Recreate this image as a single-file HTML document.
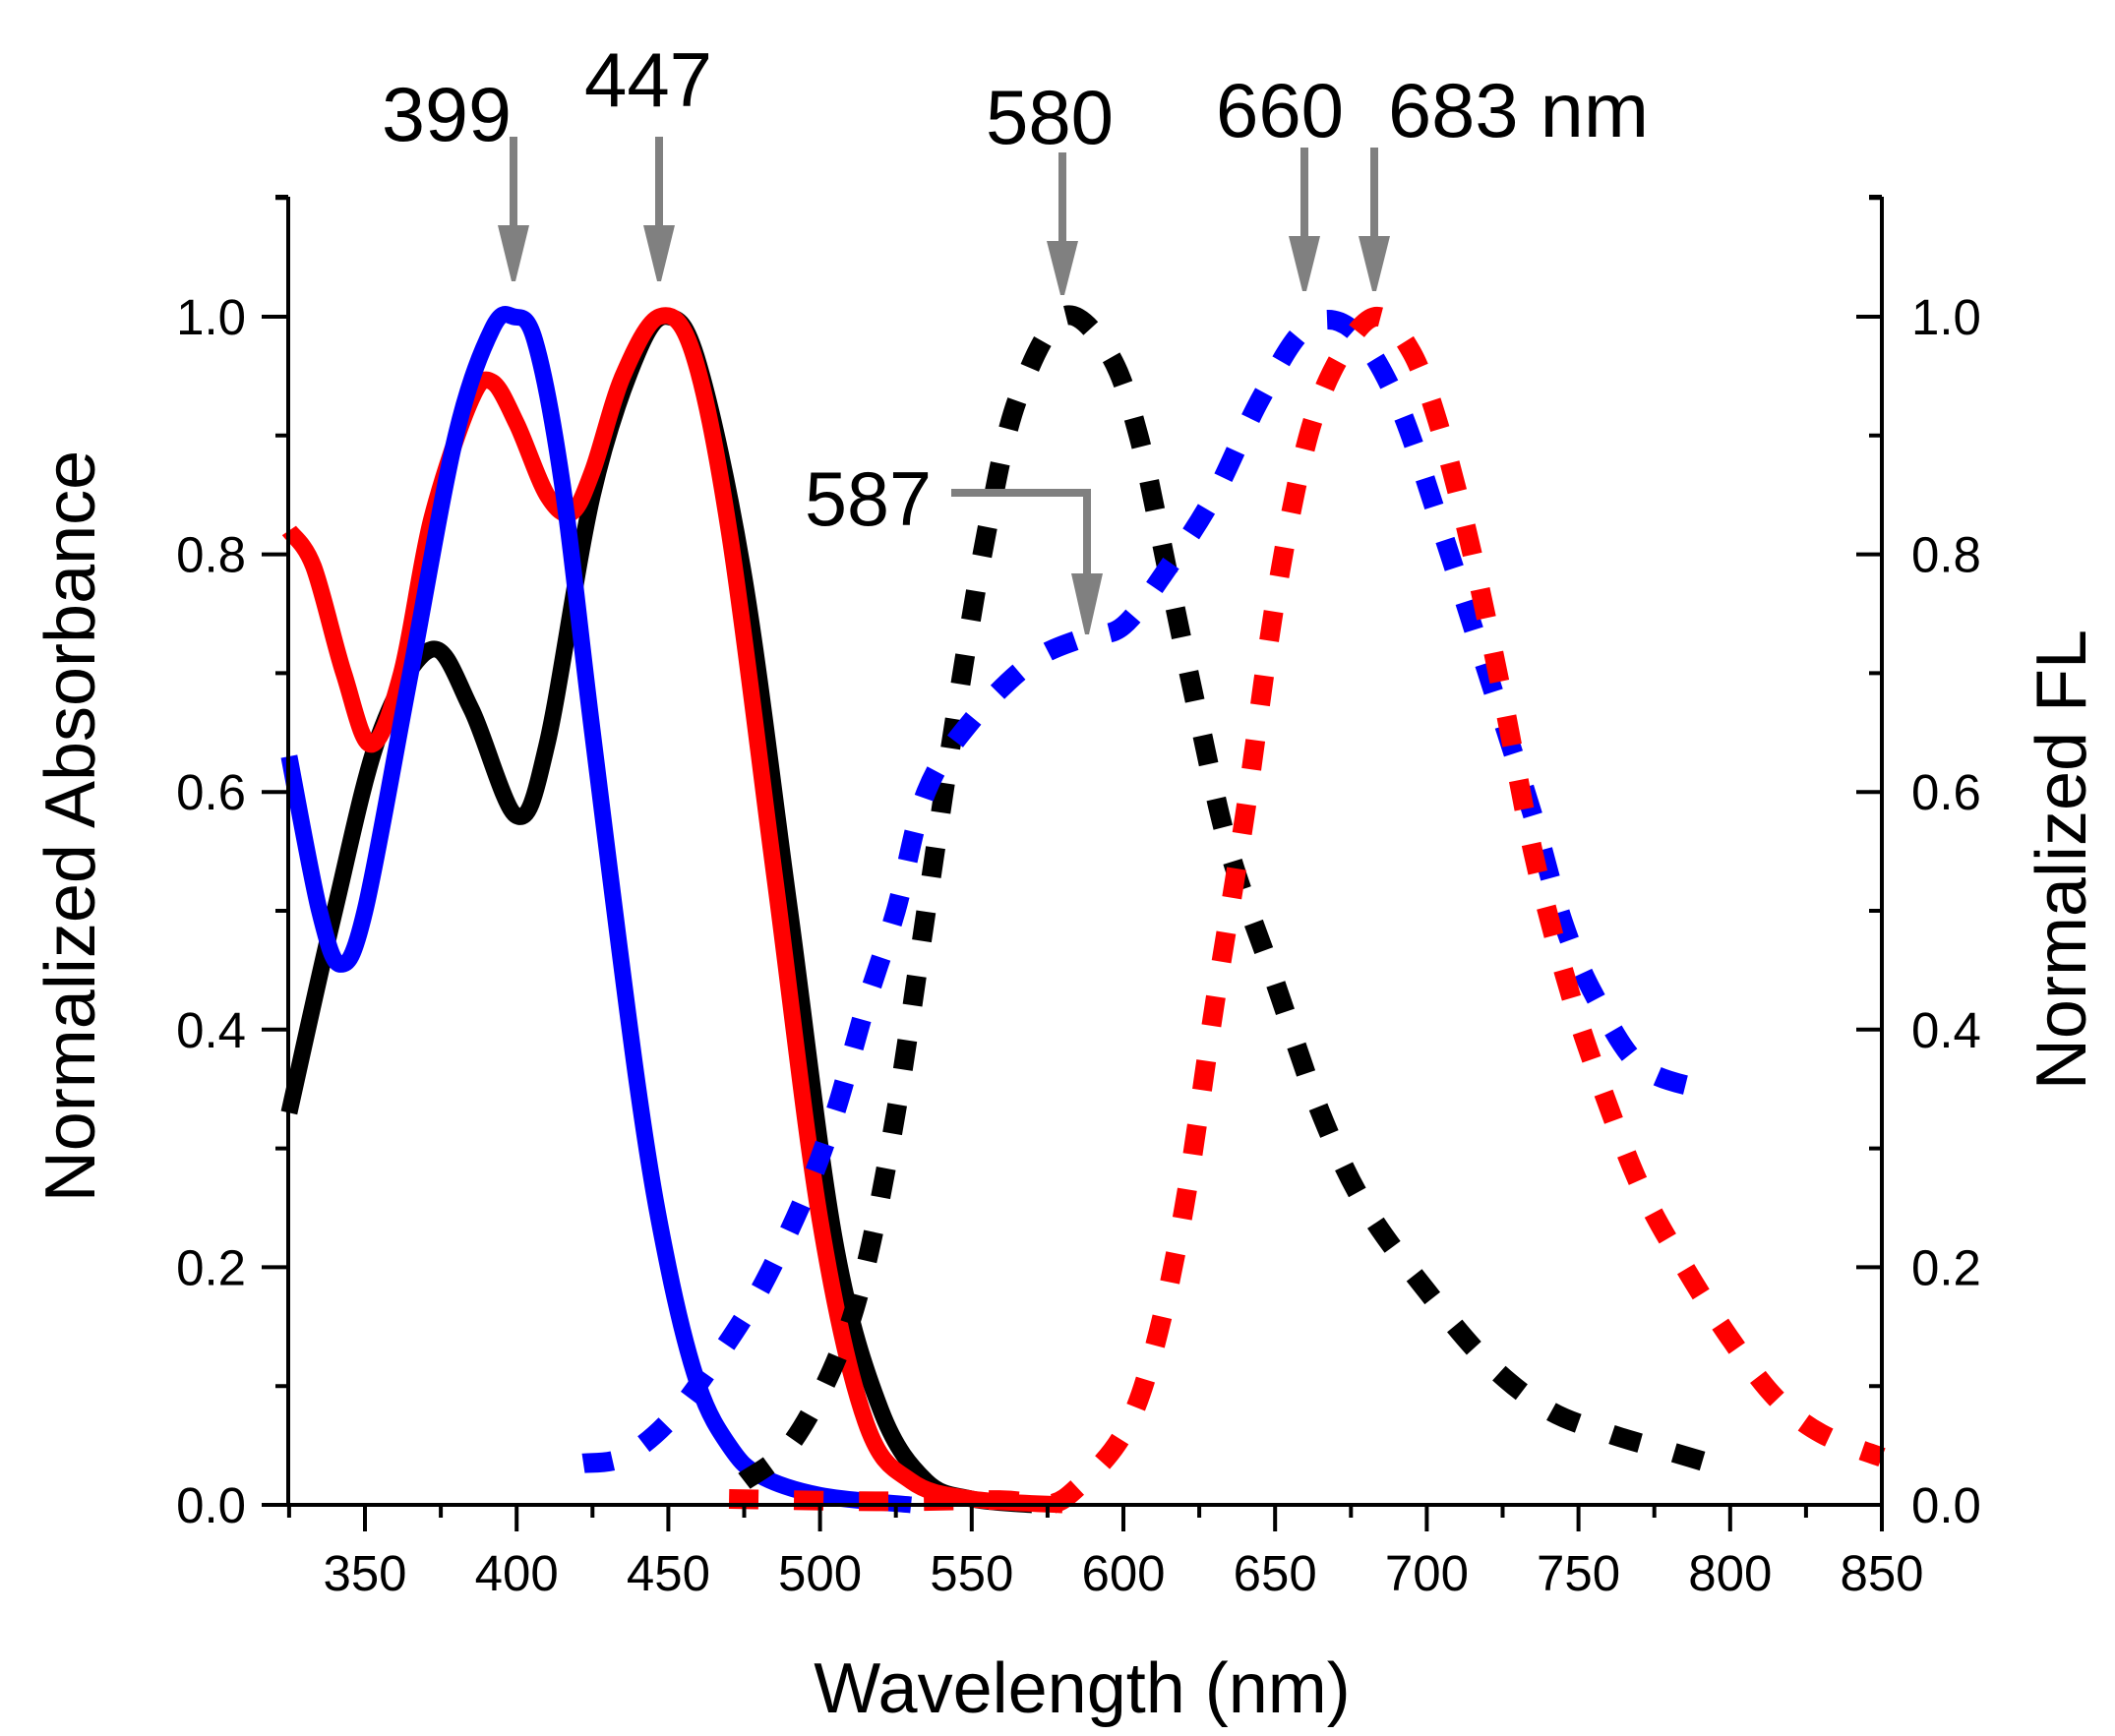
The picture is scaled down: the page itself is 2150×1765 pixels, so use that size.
<!DOCTYPE html>
<html><head><meta charset="utf-8"><style>
html,body{margin:0;padding:0;background:#fff}
svg{display:block}
text{font-family:"Liberation Sans",Arial,sans-serif;fill:#000}
</style></head><body>
<svg id="s" width="2150" height="1765" viewBox="0 0 2150 1765" xmlns="http://www.w3.org/2000/svg">
<g id="curves"></g>
<g id="axes" stroke="#000" stroke-width="4" fill="none"></g>
<g id="labels" font-size="51"></g>
<text x="1100" y="1741" font-size="72" text-anchor="middle">Wavelength (nm)</text>
<text transform="translate(96,840) rotate(-90)" font-size="72" text-anchor="middle">Normalized Absorbance</text>
<text transform="translate(2120,874) rotate(-90)" font-size="72" text-anchor="middle">Normalized FL</text>
<g font-size="78">
<text x="388" y="143" textLength="132" lengthAdjust="spacingAndGlyphs">399</text>
<text x="594" y="108" textLength="130" lengthAdjust="spacingAndGlyphs">447</text>
<text x="1002" y="146" textLength="130" lengthAdjust="spacingAndGlyphs">580</text>
<text x="1236" y="139" textLength="130" lengthAdjust="spacingAndGlyphs">660</text>
<text x="1411" y="139" textLength="265" lengthAdjust="spacingAndGlyphs">683 nm</text>
<text x="818" y="534" textLength="129" lengthAdjust="spacingAndGlyphs">587</text>
</g>
<g id="arrows" fill="#808080" stroke="#808080"></g>
</svg>
<script>
var X=function(w){return 371+(w-350)*3.084;};
var Y=function(v){return 1530-v*1208;};
function path(pts){
  var p=pts.map(function(a){return [X(a[0]),Y(a[1])];});
  var d="M"+p[0][0].toFixed(1)+","+p[0][1].toFixed(1);
  for(var i=0;i<p.length-1;i++){
    var p0=p[i-1]||p[i],p1=p[i],p2=p[i+1],p3=p[i+2]||p2;
    var c1=[p1[0]+(p2[0]-p0[0])/6,p1[1]+(p2[1]-p0[1])/6];
    var c2=[p2[0]-(p3[0]-p1[0])/6,p2[1]-(p3[1]-p1[1])/6];
    d+="C"+c1[0].toFixed(1)+","+c1[1].toFixed(1)+" "+c2[0].toFixed(1)+","+c2[1].toFixed(1)+" "+p2[0].toFixed(1)+","+p2[1].toFixed(1);
  }
  return d;
}
var series=[
 {c:"#000",dot:false,d:[[325,0.33],[340,0.5],[355,0.65],[372,0.72],[385,0.67],[400,0.58],[410,0.64],[425,0.85],[440,0.97],[450,1.0],[460,0.96],[475,0.78],[490,0.5],[505,0.22],[520,0.08],[535,0.02],[550,0.005],[570,0]]},
 {c:"#f00",dot:false,d:[[325,0.82],[333,0.79],[343,0.7],[352,0.64],[362,0.7],[372,0.83],[385,0.93],[392,0.945],[400,0.91],[410,0.85],[418,0.835],[425,0.87],[435,0.95],[447,1.0],[458,0.97],[470,0.82],[485,0.53],[500,0.24],[515,0.07],[530,0.02],[550,0.005],[580,0]]},
 {c:"#00f",dot:false,d:[[325,0.63],[335,0.5],[342,0.455],[350,0.5],[365,0.7],[380,0.9],[392,0.99],[399,1.0],[406,0.98],[415,0.86],[425,0.65],[440,0.35],[450,0.2],[460,0.1],[470,0.05],[480,0.025],[500,0.008],[530,0]]},
 {c:"#000",dot:true,d:[[475,0.02],[490,0.05],[505,0.12],[515,0.2],[525,0.33],[535,0.5],[545,0.67],[555,0.82],[565,0.93],[580,1.0],[595,0.97],[605,0.9],[615,0.78],[625,0.66],[635,0.55],[650,0.44],[665,0.33],[680,0.25],[700,0.18],[720,0.12],[740,0.08],[760,0.06],[780,0.045],[800,0.03]]},
 {c:"#00f",dot:true,d:[[422,0.035],[435,0.04],[450,0.07],[465,0.12],[480,0.18],[495,0.26],[505,0.33],[515,0.42],[525,0.5],[535,0.6],[550,0.66],[570,0.71],[587,0.73],[600,0.74],[615,0.79],[630,0.85],[645,0.93],[660,0.99],[675,0.99],[690,0.93],[705,0.82],[720,0.7],[735,0.58],[745,0.49],[755,0.43],[770,0.37],[790,0.35]]},
 {c:"#f00",dot:true,d:[[470,0.005],[520,0.003],[560,0.004],[575,0.0],[585,0.015],[600,0.06],[610,0.13],[620,0.25],[630,0.42],[640,0.58],[650,0.76],[660,0.89],[670,0.96],[683,1.0],[695,0.97],[705,0.9],[715,0.8],[725,0.68],[735,0.55],[745,0.45],[755,0.37],[770,0.27],[785,0.2],[800,0.14],[815,0.09],[830,0.06],[850,0.04]]}
];
var h="";
series.forEach(function(s){
 h+='<path d="'+path(s.d)+'" fill="none" stroke="'+s.c+'" stroke-width="'+(s.dot?20:17)+'" '+(s.dot?'stroke-dasharray="30 36"':'stroke-linejoin="round"')+'/>';
});
document.getElementById("curves").innerHTML=h;
var a='<path d="M293,200V1530H1913V200"/>';
a+='<path d="M293,200H280M1913,200H1900"/>';
for(var w=325;w<=850;w+=25){var x=X(w);var maj=(w%50==0);a+='<path d="M'+x+',1530V'+(maj?1557:1543)+'"/>';}
for(var i=0;i<=11;i++){var v=i/10,y=Y(v),maj=(i%2==0);a+='<path d="M293,'+y+'H'+(maj?266:280)+'M1913,'+y+'H'+(maj?1887:1900)+'"/>';}
document.getElementById("axes").innerHTML=a;
var l="";
for(var w=350;w<=850;w+=50){l+='<text x="'+X(w)+'" y="1617" text-anchor="middle">'+w+'</text>';}
for(var i=0;i<=5;i++){var v=(i*0.2).toFixed(1),y=Y(i*0.2)+18;l+='<text x="250" y="'+y+'" text-anchor="end">'+v+'</text><text x="1943" y="'+y+'">'+v+'</text>';}
document.getElementById("labels").innerHTML=l;
function arrow(x,top,hs,tip){return '<path d="M'+x+','+top+'V'+(hs+2)+'" stroke-width="8" fill="none"/><path d="M'+(x-16)+','+hs+'H'+(x+16)+'L'+(x+2)+','+tip+'H'+(x-2)+'Z" stroke="none"/>';}
var ar=arrow(522,139,229,286)+arrow(670,139,229,286)+arrow(1080,155,245,300)+arrow(1326,150,240,296)+arrow(1397,150,240,296);
ar+='<path d="M967,501H1105V585" stroke-width="8" fill="none"/><path d="M1089,583H1121L1107,645H1103Z" stroke="none"/>';
document.getElementById("arrows").innerHTML=ar;
</script>
</body></html>
